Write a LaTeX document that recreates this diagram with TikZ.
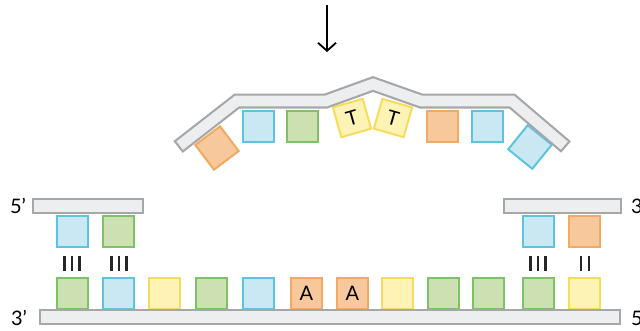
\documentclass[tikz,border=0pt]{standalone}
\usepackage{fontspec}
\setmainfont{Lato}
\usetikzlibrary{arrows.meta}
\definecolor{bfill}{HTML}{C9E8F1}\definecolor{bline}{HTML}{5CC3E0}
\definecolor{gfill}{HTML}{CCE0B2}\definecolor{gline}{HTML}{7DC266}
\definecolor{yfill}{HTML}{FDF3B5}\definecolor{yline}{HTML}{F6DC5C}
\definecolor{ofill}{HTML}{F7C89B}\definecolor{oline}{HTML}{F0AA62}
\definecolor{barfill}{HTML}{EDEEF0}\definecolor{barline}{HTML}{A7A7A7}
\tikzset{
  base/.style={line width=2pt, minimum size=31pt, inner sep=0pt, anchor=center, font=\fontsize{20}{20}\selectfont},
  bb/.style={base, draw=bline, fill=bfill},
  gb/.style={base, draw=gline, fill=gfill},
  yb/.style={base, draw=yline, fill=yfill},
  ob/.style={base, draw=oline, fill=ofill},
  barbox/.style={draw=barline, fill=barfill, line width=2.2pt},
  lbl/.style={font=\fontsize{20}{20}\selectfont, inner sep=0pt},
  bond/.style={line width=2.8pt, black!85}
}
\begin{document}
\begin{tikzpicture}[x=1pt,y=-1pt]
\useasboundingbox (0,0) rectangle (640,330);
% arrow
\coordinate (a1) at (327,5); \coordinate (a2) at (327,52);
\draw[line width=1.8pt, -{Straight Barb[length=8pt,width=18pt,line width=1.8pt]}] (a1) -- (a2);
% top damaged strand boxes
\node[ob, rotate=37] (d1) at (217,148) {};
\node[bb] (d2) at (258.5,126.5) {};
\node[gb] (d3) at (302.5,126.5) {};
\node[yb, rotate=16] (d4) at (352,118) {T};
\node[yb, rotate=-16] (d5) at (393,118) {T};
\node[ob] (d6) at (442.5,126.5) {};
\node[bb] (d7) at (487.5,126.5) {};
\node[bb, rotate=-39] (d8) at (530,147) {};
% bent bar
\draw[barline, line width=15pt, line join=miter] (178,147) -- (237,101) -- (326,101) -- (373,84) -- (421,101) -- (512,101) -- (566,147);
\draw[barfill, line width=10.6pt, line join=miter, shorten <=2.2pt, shorten >=2.2pt] (178,147) -- (237,101) -- (326,101) -- (373,84) -- (421,101) -- (512,101) -- (566,147);
% top left/right strands
\node[bb] (tl1) at (72.5,231) {};
\node[gb] (tl2) at (118.5,231) {};
\node[bb] (tr1) at (538.5,231) {};
\node[ob] (tr2) at (584.5,231) {};
\draw[barbox] (33,199) rectangle (143,213);
\draw[barbox] (504,199) rectangle (621,213);
% bottom strand
\node[gb] (b1) at (72.5,293.5) {};
\node[bb] (b2) at (118.5,293.5) {};
\node[yb] (b3) at (164.5,293.5) {};
\node[gb] (b4) at (211.5,293.5) {};
\node[bb] (b5) at (258.5,293.5) {};
\node[ob] (b6) at (306.5,293.5) {A};
\node[ob] (b7) at (352.5,293.5) {A};
\node[yb] (b8) at (397.5,293.5) {};
\node[gb] (b9) at (443.5,293.5) {};
\node[gb] (b10) at (488.5,293.5) {};
\node[gb] (b11) at (538.5,293.5) {};
\node[yb] (b12) at (584.5,293.5) {};
\draw[barbox] (40,310) rectangle (620,324);
% bonds
\foreach \cx in {72,119,538} {
  \foreach \dx in {-7.5,0,7.5} \draw[bond] (\cx+\dx,256) -- (\cx+\dx,271);
}
\foreach \dx in {-4,4} \draw[bond] (585+\dx,256) -- (585+\dx,271);
% labels
\node[lbl] (l1) at (18,206) {5’};
\node[lbl] (l2) at (19,318) {3’};
\node[lbl, anchor=west] (l3) at (631,206) {3’};
\node[lbl, anchor=west] (l4) at (631,318) {5’};
\end{tikzpicture}
\end{document}
